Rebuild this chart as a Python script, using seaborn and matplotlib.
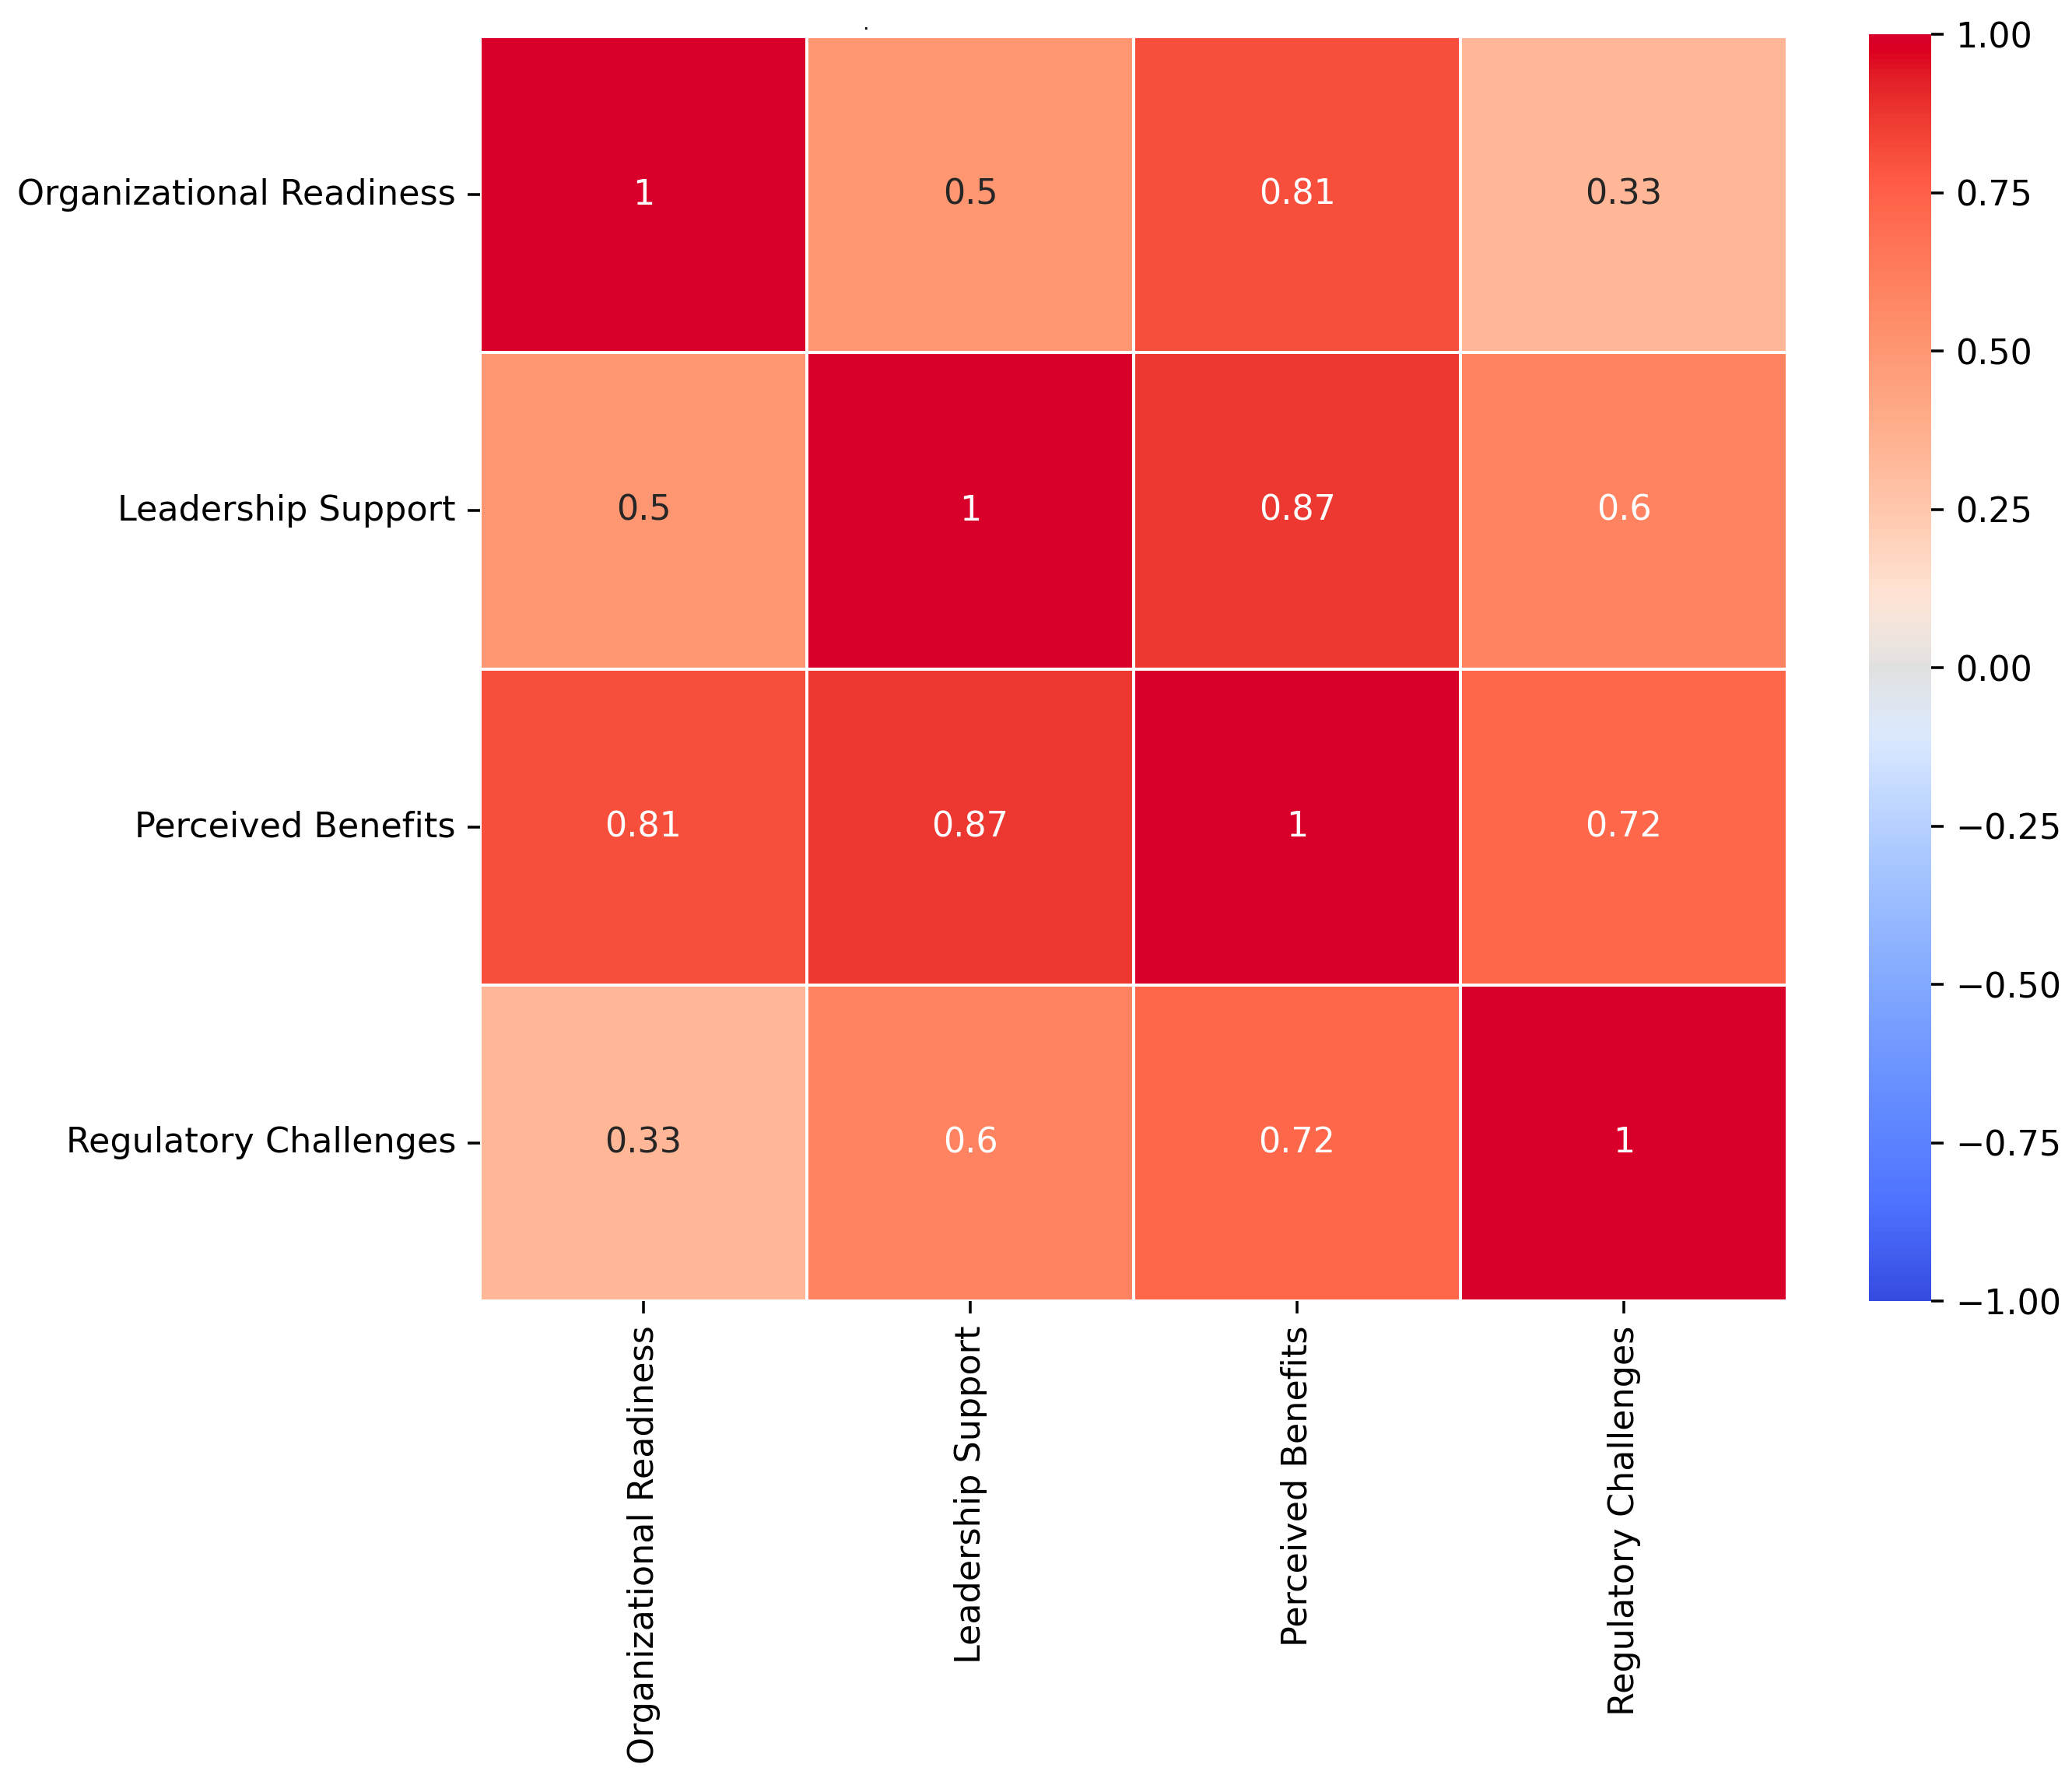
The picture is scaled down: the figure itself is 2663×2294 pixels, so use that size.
import matplotlib
matplotlib.use("Agg")
import matplotlib.pyplot as plt
import matplotlib.colors as mcolors
import seaborn as sns
import pandas as pd
import numpy as np

# Factor names and correlation values
factors = ['Organizational Readiness', 'Leadership Support',
           'Perceived Benefits', 'Regulatory Challenges']
row_org = [1.00, 0.50, 0.81, 0.33]
row_lead = [0.50, 1.00, 0.87, 0.60]
row_ben = [0.81, 0.87, 1.00, 0.72]
row_reg = [0.33, 0.60, 0.72, 1.00]

corr = pd.DataFrame([row_org, row_lead, row_ben, row_reg],
                    index=factors, columns=factors)

# coolwarm, but the coloured ends a bit more vivid like the reference;
# the grey middle stays as it is
base = plt.get_cmap('coolwarm')(np.linspace(0, 1, 256))[:, :3]
hsv = mcolors.rgb_to_hsv(base)
sat = hsv[:, 1].copy()
hsv[:, 1] = np.clip(sat * 1.1, 0, 1)
hsv[:, 2] = np.clip(hsv[:, 2] * (1 + 0.2 * np.sqrt(sat)), 0, 1)
vivid = mcolors.ListedColormap(mcolors.hsv_to_rgb(hsv), name='vivid_coolwarm')

W, H = 2663, 2294
DPI = 320
fig = plt.figure(figsize=(W / DPI, H / DPI), dpi=DPI)
ax = fig.add_axes([0.2317, 0.2711, 0.6309, 0.7084])
cax = fig.add_axes([0.902, 0.2711, 0.030, 0.7097])

sns.heatmap(
    corr,
    annot=True,
    cmap=vivid,
    vmin=-1,
    vmax=1,
    linewidths=0.9,
    linecolor='white',
    ax=ax,
    cbar_ax=cax,
)

ax.tick_params(axis='y', rotation=0)
ax.tick_params(axis='x', rotation=90)

# stray mark above the plot in the original
fig.text(1112 / W, 1 - 31 / H, '.', fontsize=6, ha='center', va='center')

fig.savefig('out.png', dpi=DPI)
plt.close(fig)
